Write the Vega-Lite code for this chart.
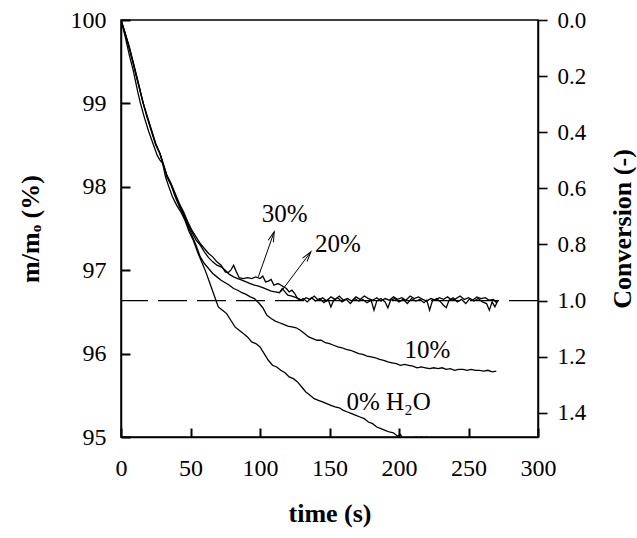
{
  "$schema": "https://vega.github.io/schema/vega-lite/v6.json",
  "width": 417,
  "height": 417,
  "autosize": {"type": "none"},
  "padding": {"left": 121, "top": 20, "right": 99, "bottom": 101},
  "background": "white",
  "config": {
    "view": {"stroke": "black", "strokeWidth": 1.5},
    "axis": {"grid": false, "labelFont": "Liberation Serif", "labelFontSize": 24, "labelColor": "black", "titleFont": "Liberation Serif", "titleFontSize": 26, "titleFontWeight": "bold", "titleColor": "black"}
  },
  "datasets": {
    "curves": [
      {"s":"0%","t":0,"m":100},{"s":"0%","t":3,"m":99.8},{"s":"0%","t":6,"m":99.58},{"s":"0%","t":9,"m":99.38},{"s":"0%","t":12,"m":99.14},{"s":"0%","t":14,"m":99.0},{"s":"0%","t":17,"m":98.82},{"s":"0%","t":20,"m":98.66},{"s":"0%","t":23,"m":98.52},{"s":"0%","t":26,"m":98.38},{"s":"0%","t":28,"m":98.32},{"s":"0%","t":30,"m":98.28},{"s":"0%","t":32,"m":98.12},{"s":"0%","t":34,"m":98.02},{"s":"0%","t":37,"m":97.88},{"s":"0%","t":40,"m":97.78},{"s":"0%","t":43,"m":97.7},{"s":"0%","t":46,"m":97.6},{"s":"0%","t":49,"m":97.46},{"s":"0%","t":52,"m":97.36},{"s":"0%","t":55,"m":97.22},{"s":"0%","t":58,"m":97.1},{"s":"0%","t":61,"m":96.98},{"s":"0%","t":64,"m":96.84},{"s":"0%","t":67,"m":96.7},{"s":"0%","t":70,"m":96.56},{"s":"0%","t":73,"m":96.52},{"s":"0%","t":76,"m":96.48},{"s":"0%","t":79,"m":96.4},{"s":"0%","t":82,"m":96.32},{"s":"0%","t":85,"m":96.28},{"s":"0%","t":88,"m":96.24},{"s":"0%","t":91,"m":96.2},{"s":"0%","t":94,"m":96.14},{"s":"0%","t":97,"m":96.12},{"s":"0%","t":100,"m":96.08},{"s":"0%","t":103,"m":96.0},{"s":"0%","t":106,"m":95.92},{"s":"0%","t":109,"m":95.86},{"s":"0%","t":112,"m":95.84},{"s":"0%","t":115,"m":95.8},{"s":"0%","t":118,"m":95.77},{"s":"0%","t":121,"m":95.72},{"s":"0%","t":124,"m":95.7},{"s":"0%","t":127,"m":95.66},{"s":"0%","t":130,"m":95.6},{"s":"0%","t":133,"m":95.54},{"s":"0%","t":136,"m":95.5},{"s":"0%","t":139,"m":95.46},{"s":"0%","t":142,"m":95.44},{"s":"0%","t":145,"m":95.42},{"s":"0%","t":148,"m":95.4},{"s":"0%","t":151,"m":95.38},{"s":"0%","t":154,"m":95.36},{"s":"0%","t":157,"m":95.35},{"s":"0%","t":160,"m":95.32},{"s":"0%","t":163,"m":95.3},{"s":"0%","t":166,"m":95.28},{"s":"0%","t":169,"m":95.26},{"s":"0%","t":172,"m":95.24},{"s":"0%","t":175,"m":95.22},{"s":"0%","t":178,"m":95.18},{"s":"0%","t":181,"m":95.16},{"s":"0%","t":184,"m":95.12},{"s":"0%","t":187,"m":95.1},{"s":"0%","t":190,"m":95.08},{"s":"0%","t":193,"m":95.06},{"s":"0%","t":196,"m":95.05},{"s":"0%","t":199,"m":95.01},{"s":"0%","t":201,"m":95.03},{"s":"0%","t":203,"m":94.98},{"s":"0%","t":206,"m":94.96},{"s":"0%","t":209,"m":94.97},{"s":"0%","t":212,"m":95.0},{"s":"0%","t":214,"m":94.98},{"s":"0%","t":216,"m":95.0},{"s":"0%","t":218,"m":94.99},{"s":"0%","t":220,"m":95.0},{"s":"0%","t":222,"m":94.96},{"s":"0%","t":225,"m":94.92},

      {"s":"10%","t":0,"m":100},{"s":"10%","t":3,"m":99.84},{"s":"10%","t":6,"m":99.66},{"s":"10%","t":9,"m":99.46},{"s":"10%","t":12,"m":99.26},{"s":"10%","t":16,"m":99.0},{"s":"10%","t":19,"m":98.82},{"s":"10%","t":22,"m":98.66},{"s":"10%","t":25,"m":98.5},{"s":"10%","t":28,"m":98.4},{"s":"10%","t":30,"m":98.28},{"s":"10%","t":33,"m":98.12},{"s":"10%","t":36,"m":98.02},{"s":"10%","t":39,"m":97.88},{"s":"10%","t":42,"m":97.76},{"s":"10%","t":45,"m":97.66},{"s":"10%","t":48,"m":97.54},{"s":"10%","t":51,"m":97.42},{"s":"10%","t":54,"m":97.3},{"s":"10%","t":57,"m":97.16},{"s":"10%","t":60,"m":97.08},{"s":"10%","t":63,"m":97.02},{"s":"10%","t":66,"m":96.96},{"s":"10%","t":69,"m":96.92},{"s":"10%","t":72,"m":96.88},{"s":"10%","t":75,"m":96.85},{"s":"10%","t":78,"m":96.82},{"s":"10%","t":81,"m":96.78},{"s":"10%","t":84,"m":96.76},{"s":"10%","t":87,"m":96.73},{"s":"10%","t":90,"m":96.71},{"s":"10%","t":93,"m":96.68},{"s":"10%","t":96,"m":96.66},{"s":"10%","t":99,"m":96.61},{"s":"10%","t":102,"m":96.55},{"s":"10%","t":105,"m":96.46},{"s":"10%","t":108,"m":96.42},{"s":"10%","t":111,"m":96.39},{"s":"10%","t":114,"m":96.37},{"s":"10%","t":117,"m":96.35},{"s":"10%","t":120,"m":96.33},{"s":"10%","t":123,"m":96.32},{"s":"10%","t":126,"m":96.31},{"s":"10%","t":129,"m":96.28},{"s":"10%","t":132,"m":96.24},{"s":"10%","t":135,"m":96.2},{"s":"10%","t":138,"m":96.18},{"s":"10%","t":141,"m":96.16},{"s":"10%","t":144,"m":96.16},{"s":"10%","t":147,"m":96.13},{"s":"10%","t":150,"m":96.12},{"s":"10%","t":153,"m":96.1},{"s":"10%","t":156,"m":96.08},{"s":"10%","t":159,"m":96.07},{"s":"10%","t":162,"m":96.05},{"s":"10%","t":165,"m":96.04},{"s":"10%","t":168,"m":96.02},{"s":"10%","t":171,"m":96.0},{"s":"10%","t":174,"m":95.99},{"s":"10%","t":177,"m":95.97},{"s":"10%","t":180,"m":95.96},{"s":"10%","t":183,"m":95.95},{"s":"10%","t":186,"m":95.93},{"s":"10%","t":189,"m":95.92},{"s":"10%","t":192,"m":95.9},{"s":"10%","t":195,"m":95.89},{"s":"10%","t":198,"m":95.88},{"s":"10%","t":201,"m":95.86},{"s":"10%","t":204,"m":95.87},{"s":"10%","t":207,"m":95.86},{"s":"10%","t":210,"m":95.85},{"s":"10%","t":213,"m":95.83},{"s":"10%","t":216,"m":95.84},{"s":"10%","t":219,"m":95.83},{"s":"10%","t":222,"m":95.82},{"s":"10%","t":225,"m":95.83},{"s":"10%","t":228,"m":95.82},{"s":"10%","t":231,"m":95.83},{"s":"10%","t":234,"m":95.81},{"s":"10%","t":237,"m":95.82},{"s":"10%","t":240,"m":95.8},{"s":"10%","t":243,"m":95.81},{"s":"10%","t":246,"m":95.81},{"s":"10%","t":249,"m":95.8},{"s":"10%","t":252,"m":95.81},{"s":"10%","t":255,"m":95.8},{"s":"10%","t":258,"m":95.8},{"s":"10%","t":261,"m":95.79},{"s":"10%","t":264,"m":95.8},{"s":"10%","t":267,"m":95.78},{"s":"10%","t":270,"m":95.79},

      {"s":"20%","t":0,"m":100},{"s":"20%","t":3,"m":99.84},{"s":"20%","t":6,"m":99.66},{"s":"20%","t":9,"m":99.47},{"s":"20%","t":12,"m":99.27},{"s":"20%","t":16,"m":99.0},{"s":"20%","t":19,"m":98.83},{"s":"20%","t":22,"m":98.67},{"s":"20%","t":25,"m":98.51},{"s":"20%","t":28,"m":98.4},{"s":"20%","t":30,"m":98.29},{"s":"20%","t":33,"m":98.13},{"s":"20%","t":36,"m":98.03},{"s":"20%","t":39,"m":97.9},{"s":"20%","t":42,"m":97.78},{"s":"20%","t":45,"m":97.68},{"s":"20%","t":48,"m":97.56},{"s":"20%","t":51,"m":97.46},{"s":"20%","t":54,"m":97.36},{"s":"20%","t":57,"m":97.3},{"s":"20%","t":60,"m":97.22},{"s":"20%","t":63,"m":97.15},{"s":"20%","t":66,"m":97.1},{"s":"20%","t":69,"m":97.06},{"s":"20%","t":72,"m":97.04},{"s":"20%","t":75,"m":97.0},{"s":"20%","t":78,"m":96.95},{"s":"20%","t":81,"m":96.92},{"s":"20%","t":84,"m":96.9},{"s":"20%","t":87,"m":96.88},{"s":"20%","t":90,"m":96.86},{"s":"20%","t":93,"m":96.84},{"s":"20%","t":96,"m":96.82},{"s":"20%","t":99,"m":96.81},{"s":"20%","t":102,"m":96.79},{"s":"20%","t":105,"m":96.77},{"s":"20%","t":108,"m":96.75},{"s":"20%","t":111,"m":96.74},{"s":"20%","t":114,"m":96.73},{"s":"20%","t":116,"m":96.78},{"s":"20%","t":118,"m":96.74},{"s":"20%","t":120,"m":96.7},{"s":"20%","t":123,"m":96.69},{"s":"20%","t":126,"m":96.67},{"s":"20%","t":129,"m":96.65},{"s":"20%","t":131,"m":96.64},{"s":"20%","t":133,"m":96.67},{"s":"20%","t":136,"m":96.65},{"s":"20%","t":139,"m":96.69},{"s":"20%","t":142,"m":96.64},{"s":"20%","t":145,"m":96.67},{"s":"20%","t":148,"m":96.63},{"s":"20%","t":151,"m":96.68},{"s":"20%","t":154,"m":96.65},{"s":"20%","t":157,"m":96.69},{"s":"20%","t":160,"m":96.64},{"s":"20%","t":163,"m":96.66},{"s":"20%","t":166,"m":96.63},{"s":"20%","t":169,"m":96.68},{"s":"20%","t":172,"m":96.65},{"s":"20%","t":175,"m":96.69},{"s":"20%","t":178,"m":96.66},{"s":"20%","t":181,"m":96.64},{"s":"20%","t":184,"m":96.67},{"s":"20%","t":187,"m":96.63},{"s":"20%","t":190,"m":96.66},{"s":"20%","t":193,"m":96.64},{"s":"20%","t":196,"m":96.68},{"s":"20%","t":199,"m":96.65},{"s":"20%","t":202,"m":96.67},{"s":"20%","t":205,"m":96.64},{"s":"20%","t":208,"m":96.69},{"s":"20%","t":211,"m":96.66},{"s":"20%","t":214,"m":96.68},{"s":"20%","t":217,"m":96.65},{"s":"20%","t":220,"m":96.63},{"s":"20%","t":223,"m":96.66},{"s":"20%","t":226,"m":96.64},{"s":"20%","t":229,"m":96.67},{"s":"20%","t":232,"m":96.65},{"s":"20%","t":235,"m":96.68},{"s":"20%","t":238,"m":96.64},{"s":"20%","t":241,"m":96.66},{"s":"20%","t":244,"m":96.69},{"s":"20%","t":247,"m":96.65},{"s":"20%","t":250,"m":96.67},{"s":"20%","t":253,"m":96.64},{"s":"20%","t":256,"m":96.68},{"s":"20%","t":259,"m":96.66},{"s":"20%","t":262,"m":96.67},{"s":"20%","t":265,"m":96.64},{"s":"20%","t":268,"m":96.65},{"s":"20%","t":270,"m":96.61},{"s":"20%","t":271,"m":96.64},

      {"s":"30%","t":0,"m":100},{"s":"30%","t":3,"m":99.84},{"s":"30%","t":6,"m":99.68},{"s":"30%","t":9,"m":99.48},{"s":"30%","t":12,"m":99.28},{"s":"30%","t":16,"m":99.0},{"s":"30%","t":19,"m":98.84},{"s":"30%","t":22,"m":98.68},{"s":"30%","t":25,"m":98.52},{"s":"30%","t":28,"m":98.4},{"s":"30%","t":30,"m":98.3},{"s":"30%","t":33,"m":98.14},{"s":"30%","t":36,"m":98.04},{"s":"30%","t":39,"m":97.92},{"s":"30%","t":42,"m":97.8},{"s":"30%","t":45,"m":97.7},{"s":"30%","t":48,"m":97.58},{"s":"30%","t":51,"m":97.48},{"s":"30%","t":54,"m":97.4},{"s":"30%","t":57,"m":97.32},{"s":"30%","t":60,"m":97.26},{"s":"30%","t":63,"m":97.2},{"s":"30%","t":66,"m":97.16},{"s":"30%","t":69,"m":97.1},{"s":"30%","t":72,"m":97.06},{"s":"30%","t":75,"m":96.98},{"s":"30%","t":77,"m":96.97},{"s":"30%","t":79,"m":97.0},{"s":"30%","t":81,"m":97.06},{"s":"30%","t":83,"m":96.98},{"s":"30%","t":85,"m":96.91},{"s":"30%","t":88,"m":96.9},{"s":"30%","t":91,"m":96.91},{"s":"30%","t":94,"m":96.9},{"s":"30%","t":97,"m":96.92},{"s":"30%","t":100,"m":96.9},{"s":"30%","t":102,"m":96.93},{"s":"30%","t":104,"m":96.86},{"s":"30%","t":106,"m":96.87},{"s":"30%","t":108,"m":96.89},{"s":"30%","t":110,"m":96.82},{"s":"30%","t":113,"m":96.84},{"s":"30%","t":116,"m":96.81},{"s":"30%","t":119,"m":96.78},{"s":"30%","t":121,"m":96.74},{"s":"30%","t":123,"m":96.76},{"s":"30%","t":125,"m":96.72},{"s":"30%","t":127,"m":96.66},{"s":"30%","t":129,"m":96.64},{"s":"30%","t":131,"m":96.66},{"s":"30%","t":134,"m":96.62},{"s":"30%","t":137,"m":96.67},{"s":"30%","t":140,"m":96.63},{"s":"30%","t":143,"m":96.66},{"s":"30%","t":146,"m":96.61},{"s":"30%","t":149,"m":96.65},{"s":"30%","t":151,"m":96.56},{"s":"30%","t":153,"m":96.64},{"s":"30%","t":156,"m":96.67},{"s":"30%","t":159,"m":96.62},{"s":"30%","t":162,"m":96.65},{"s":"30%","t":165,"m":96.6},{"s":"30%","t":168,"m":96.66},{"s":"30%","t":171,"m":96.63},{"s":"30%","t":174,"m":96.65},{"s":"30%","t":177,"m":96.61},{"s":"30%","t":180,"m":96.64},{"s":"30%","t":182,"m":96.52},{"s":"30%","t":184,"m":96.63},{"s":"30%","t":187,"m":96.66},{"s":"30%","t":190,"m":96.62},{"s":"30%","t":192,"m":96.55},{"s":"30%","t":194,"m":96.64},{"s":"30%","t":197,"m":96.66},{"s":"30%","t":200,"m":96.62},{"s":"30%","t":203,"m":96.65},{"s":"30%","t":206,"m":96.6},{"s":"30%","t":209,"m":96.66},{"s":"30%","t":212,"m":96.63},{"s":"30%","t":215,"m":96.65},{"s":"30%","t":218,"m":96.61},{"s":"30%","t":220,"m":96.64},{"s":"30%","t":222,"m":96.52},{"s":"30%","t":224,"m":96.63},{"s":"30%","t":227,"m":96.66},{"s":"30%","t":230,"m":96.62},{"s":"30%","t":232,"m":96.58},{"s":"30%","t":234,"m":96.55},{"s":"30%","t":236,"m":96.64},{"s":"30%","t":239,"m":96.67},{"s":"30%","t":242,"m":96.62},{"s":"30%","t":245,"m":96.65},{"s":"30%","t":248,"m":96.6},{"s":"30%","t":251,"m":96.66},{"s":"30%","t":254,"m":96.63},{"s":"30%","t":257,"m":96.66},{"s":"30%","t":260,"m":96.62},{"s":"30%","t":263,"m":96.6},{"s":"30%","t":265,"m":96.52},{"s":"30%","t":267,"m":96.62},{"s":"30%","t":269,"m":96.56},{"s":"30%","t":271,"m":96.63}
    ],
    "annotations": [
      {"label":"30%","t":101.2,"m":97.58},
      {"label":"20%","t":139.5,"m":97.22},
      {"label":"10%","t":204,"m":95.95},
      {"label":"0% H₂O","t":162.2,"m":95.32}
    ],
    "arrows": [
      {"s":"30%","t":98.8,"m":96.92,"t2":110.2,"m2":97.46},
      {"s":"20%","t":115.0,"m":96.74,"t2":136.6,"m2":97.22}
    ],
    "heads": [
      {"s":"30%","t":110.2,"m":97.46},
      {"s":"20%","t":136.6,"m":97.22}
    ],
    "xmarks": [{"t":50},{"t":100},{"t":150},{"t":200},{"t":250}],
    "ymarks": [{"m":96},{"m":97},{"m":98},{"m":99}]
  },
  "layer": [
    {
      "encoding": {
        "x": {
          "field": "t", "type": "quantitative",
          "scale": {"domain": [0, 300], "nice": false},
          "axis": {
            "title": "time (s)",
            "values": [0, 50, 100, 150, 200, 250, 300],
            "tickSize": -9,
            "tickColor": "black",
            "tickWidth": 2,
            "domainColor": "black",
            "domainWidth": 1.5,
            "labelPadding": 28,
            "labelFlush": false,
            "titleX": 208.5,
            "titleY": 76,
            "titleBaseline": "middle",
            "titleAlign": "center"
          }
        },
        "y": {
          "field": "m", "type": "quantitative",
          "scale": {"domain": [95, 100], "nice": false, "zero": false},
          "axis": {
            "title": "m/mₒ (%)",
            "values": [95, 96, 97, 98, 99, 100],
            "tickSize": -9,
            "tickColor": "black",
            "tickWidth": 2,
            "domainColor": "black",
            "domainWidth": 1.5,
            "labelPadding": 24,
            "titleAngle": 270,
            "titleX": -91,
            "titleY": 208.5,
            "titleBaseline": "middle",
            "titleAlign": "center"
          }
        }
      },
      "layer": [
        {
          "data": {"name": "curves"},
          "mark": {"type": "line", "color": "black", "strokeWidth": 1.3, "clip": true},
          "encoding": {"detail": {"field": "s"}}
        },
        {
          "data": {"name": "xmarks"},
          "mark": {"type": "tick", "orient": "vertical", "size": 18, "thickness": 1.6, "color": "black", "opacity": 1, "clip": true},
          "encoding": {"y": {"datum": 95, "type": "quantitative"}}
        },
        {
          "data": {"name": "ymarks"},
          "mark": {"type": "tick", "orient": "horizontal", "size": 18, "thickness": 1.6, "color": "black", "opacity": 1, "clip": true},
          "encoding": {"x": {"datum": 0, "type": "quantitative"}}
        },
        {
          "data": {"name": "arrows"},
          "mark": {"type": "rule", "color": "black", "strokeWidth": 1},
          "encoding": {
            "x2": {"field": "t2"},
            "y2": {"field": "m2"}
          }
        },
        {
          "data": {"name": "heads"},
          "transform": [{"filter": "datum.s == '30%'"}],
          "mark": {"type": "point", "shape": "M -0.28 1 L 0 0 L 0.28 1", "size": 400, "angle": 19.5, "filled": false, "stroke": "black", "strokeWidth": 1, "opacity": 1}
        },
        {
          "data": {"name": "heads"},
          "transform": [{"filter": "datum.s == '20%'"}],
          "mark": {"type": "point", "shape": "M -0.28 1 L 0 0 L 0.28 1", "size": 400, "angle": 37, "filled": false, "stroke": "black", "strokeWidth": 1, "opacity": 1}
        },
        {
          "data": {"name": "annotations"},
          "mark": {"type": "text", "font": "Liberation Serif", "fontSize": 25, "color": "black", "align": "left", "baseline": "alphabetic"},
          "encoding": {"text": {"field": "label"}}
        }
      ]
    },
    {
      "data": {"values": [{}]},
      "mark": {"type": "rule", "color": "black", "strokeWidth": 1.3, "strokeDash": [29, 10]},
      "encoding": {
        "y": {
          "datum": 1, "type": "quantitative",
          "scale": {"domain": [0, 1.486], "reverse": true, "nice": false},
          "axis": {
            "orient": "right",
            "title": "Conversion (-)",
            "values": [0, 0.2, 0.4, 0.6, 0.8, 1.0, 1.2, 1.4],
            "format": ".1f",
            "tickSize": 9,
            "tickColor": "black",
            "tickWidth": 1.6,
            "domainColor": "black",
            "domainWidth": 1.5,
            "labelPadding": 10,
            "labelFontSize": 23,
            "titleAngle": 270,
            "titleX": 84,
            "titleY": 208.5,
            "titleBaseline": "middle",
            "titleAlign": "center"
          }
        }
      }
    }
  ],
  "resolve": {"scale": {"y": "independent"}}
}
